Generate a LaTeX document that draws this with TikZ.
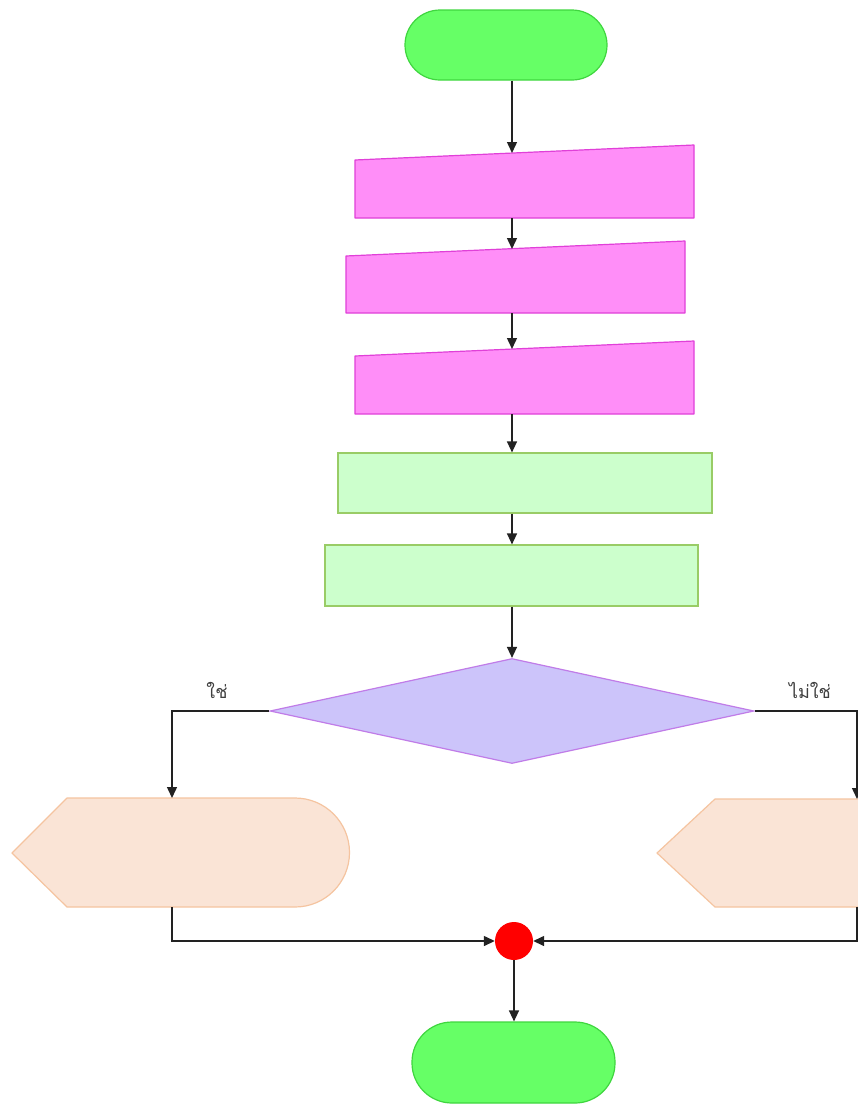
\documentclass[tikz,border=0pt]{standalone}
\usepackage{fontspec}
\newfontfamily\thaifont[Script=Thai]{Loma}
\usetikzlibrary{arrows.meta,shapes.geometric}
\definecolor{termfill}{HTML}{66FF66}
\definecolor{termdraw}{HTML}{3FD63F}
\definecolor{mfill}{HTML}{FF8EF8}
\definecolor{mdraw}{HTML}{E040D8}
\definecolor{pfill}{HTML}{CCFFCC}
\definecolor{pdraw}{HTML}{99CC66}
\definecolor{dfill}{HTML}{CCC4FA}
\definecolor{ddraw}{HTML}{C07CE8}
\definecolor{dispfill}{HTML}{FAE4D6}
\definecolor{dispdraw}{HTML}{F5C4A0}
\definecolor{linec}{HTML}{222222}
\definecolor{labc}{HTML}{404040}
\tikzset{
  term/.style={draw=termdraw,fill=termfill,line width=1.2pt,inner sep=0pt},
  manin/.style={draw=mdraw,fill=mfill,line width=1.2pt,line join=round},
  procbox/.style={draw=pdraw,fill=pfill,line width=1.2pt,inner sep=0pt,rectangle},
  decbox/.style={draw=ddraw,fill=dfill,line width=1.2pt,diamond,inner sep=0pt},
  dispbox/.style={draw=dispdraw,fill=dispfill,line width=1.2pt,line join=round},
  arr/.style={draw=linec,line width=1.4pt,-{Triangle[length=11pt,width=10pt]}},
  lab/.style={text=labc,font=\thaifont\fontsize{18}{20}\selectfont,inner sep=0pt}
}
\begin{document}
\begin{tikzpicture}[x=1pt,y=-1pt]
\clip (0,0) rectangle (858,1106);
\fill[white] (0,0) rectangle (858,1106);
\coordinate (axis) at (512,0);
% start terminal
\node[term,rounded corners=35pt,minimum width=202pt,minimum height=70pt] (start) at (506,45) {};
% manual inputs
\path[manin] (355,160) -- (694,145) -- (694,218) -- (355,218) -- cycle;
\coordinate (m1t) at (512,153);
\coordinate (m1b) at (512,218);
\path[manin] (346,256) -- (685,241) -- (685,313) -- (346,313) -- cycle;
\coordinate (m2t) at (512,249);
\coordinate (m2b) at (512,313);
\path[manin] (355,356) -- (694,341) -- (694,414) -- (355,414) -- cycle;
\coordinate (m3t) at (512,349);
\coordinate (m3b) at (512,414);
% processes
\node[procbox,minimum width=374pt,minimum height=60pt] (p1) at (525,483) {};
\node[procbox,minimum width=373pt,minimum height=61pt] (p2) at (511.5,575.5) {};
% decision
\node[decbox,minimum width=484pt,minimum height=105pt] (dec) at (512,711) {};
% displays
\path[dispbox] (12,853) -- (67,798) -- (295,798) arc[start angle=-90,end angle=90,radius=54.5] -- (67,907) -- cycle;
\coordinate (ldt) at (172,798);
\coordinate (ldb) at (172,907);
\path[dispbox] (657,853) -- (715,799) -- (875,799) -- (875,907) -- (715,907) -- cycle;
\coordinate (rdt) at (857,799);
\coordinate (rdb) at (857,907);
% join
\node[circle,fill=red,inner sep=0pt,minimum size=38pt] (join) at (514,941) {};
% end terminal
\node[term,rounded corners=40pt,minimum width=203pt,minimum height=81pt] (end) at (513.5,1062.5) {};
% labels
\node[lab] (yes) at (217,690) {ใช่};
\node[lab] (no) at (810,690) {ไม่ใช่};
% connectors
\draw[arr] (start.south -| axis) -- (m1t);
\draw[arr] (m1b) -- (m2t);
\draw[arr] (m2b) -- (m3t);
\draw[arr] (m3b) -- (p1.north -| axis);
\draw[arr] (p1.south -| axis) -- (p2.north -| axis);
\draw[arr] (p2.south -| axis) -- (dec.north);
\draw[arr] (dec.west) -| (ldt);
\draw[arr] (dec.east) -| (rdt);
\draw[arr] (ldb) |- (join.west);
\draw[arr] (rdb) |- (join.east);
\draw[arr] (join.south) -- (end.north -| join);
\end{tikzpicture}
\end{document}
